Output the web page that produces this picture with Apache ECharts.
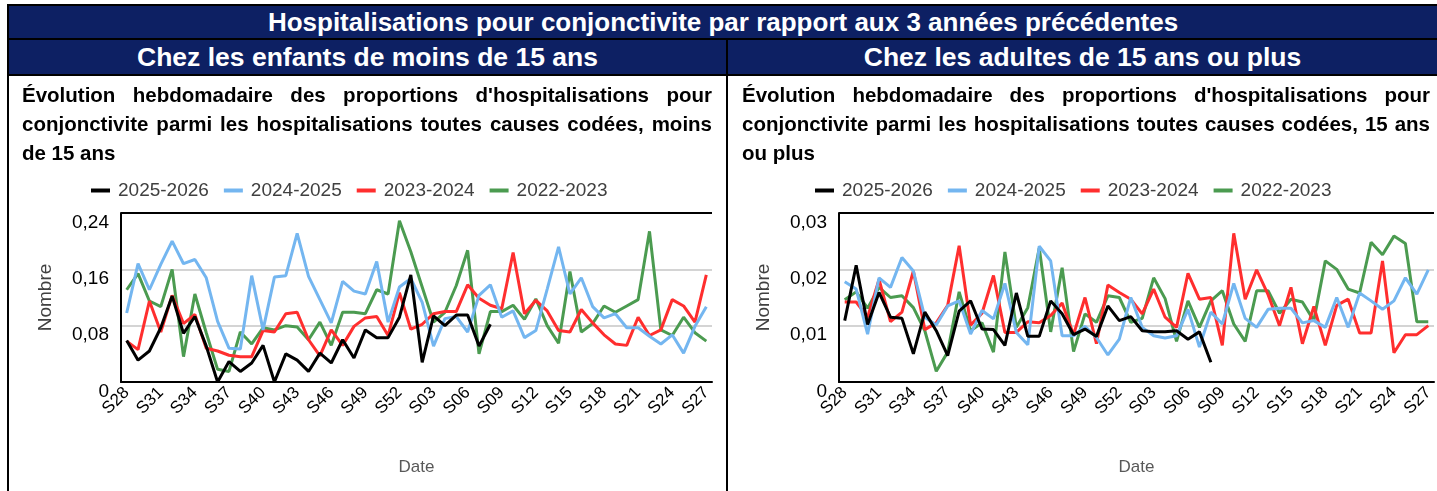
<!DOCTYPE html>
<html lang="fr">
<head>
<meta charset="utf-8">
<title>Hospitalisations pour conjonctivite</title>
<script src="https://cdn.jsdelivr.net/npm/echarts@6/dist/echarts.min.js"></script>
<style>
  html, body { margin: 0; padding: 0; background: #fff; }
  body { width: 1437px; height: 491px; position: relative; overflow: hidden;
         font-family: "Liberation Sans", Arial, sans-serif; }
  #chart { position: absolute; left: 0; top: 0; width: 1437px; height: 491px; }
  .band { position: absolute; background: #0D2063; color: #fff; font-weight: bold;
          text-align: center; white-space: nowrap; }
  .rule { position: absolute; background: #000; }
  .para { position: absolute; font-weight: bold; font-size: 20.5px; line-height: 29px; color: #000; }
  .para div { text-align: justify; text-align-last: justify; white-space: nowrap; }
  .para div.last { text-align-last: left; }
</style>
</head>
<body>
<div id="chart"></div>

<div class="band" style="left:9px; top:6px; width:1428px; height:32px; line-height:32px; font-size:26px;">Hospitalisations pour conjonctivite par rapport aux 3 années précédentes</div>
<div class="band" style="left:9px; top:40px; width:717px; height:34px; line-height:35px; font-size:26.5px;">Chez les enfants de moins de 15 ans</div>
<div class="band" style="left:728px; top:40px; width:709px; height:34px; line-height:35px; font-size:26.5px;">Chez les adultes de 15 ans ou plus</div>

<div class="rule" style="left:7px; top:4px; width:1430px; height:2px;"></div>
<div class="rule" style="left:7px; top:38px; width:1430px; height:2px;"></div>
<div class="rule" style="left:7px; top:74px; width:1430px; height:2px;"></div>
<div class="rule" style="left:7px; top:4px; width:2px; height:487px;"></div>
<div class="rule" style="left:726px; top:38px; width:2px; height:453px;"></div>

<div class="para" style="left:22px; top:80px; width:690px;">
  <div>Évolution hebdomadaire des proportions d'hospitalisations pour</div>
  <div>conjonctivite parmi les hospitalisations toutes causes codées, moins</div>
  <div class="last">de 15 ans</div>
</div>
<div class="para" style="left:742px; top:80px; width:688px;">
  <div>Évolution hebdomadaire des proportions d'hospitalisations pour</div>
  <div>conjonctivite parmi les hospitalisations toutes causes codées, 15 ans</div>
  <div class="last">ou plus</div>
</div>

<script>
// Semaines de S28 à S27
const weeks = ['S28','S29','S30','S31','S32','S33','S34','S35','S36','S37','S38','S39','S40',
  'S41','S42','S43','S44','S45','S46','S47','S48','S49','S50','S51','S52',
  'S01','S02','S03','S04','S05','S06','S07','S08','S09','S10','S11','S12','S13','S14',
  'S15','S16','S17','S18','S19','S20','S21','S22','S23','S24','S25','S26','S27'];

const seasons = ['2025-2026', '2024-2025', '2023-2024', '2022-2023'];
const seasonColors = ['#000000', '#74B6F0', '#FF2E2E', '#4B9B50'];

// Moins de 15 ans
const enfants2526 = [0.059, 0.031, 0.044, 0.077, 0.122, 0.069, 0.093, 0.051, 0.0, 0.029,
  0.015, 0.027, 0.052, 0.0, 0.040, 0.031, 0.015, 0.041, 0.027, 0.060,
  0.034, 0.074, 0.063, 0.063, 0.092, 0.152, 0.028, 0.094, 0.080, 0.095,
  0.095, 0.051, 0.082];
const enfants2425 = [0.098, 0.168, 0.131, 0.167, 0.200, 0.168, 0.174, 0.148, 0.086, 0.048,
  0.047, 0.151, 0.074, 0.149, 0.151, 0.211, 0.150, 0.117, 0.084, 0.143,
  0.129, 0.125, 0.171, 0.085, 0.135, 0.147, 0.113, 0.051, 0.090, 0.093,
  0.071, 0.123, 0.138, 0.092, 0.101, 0.063, 0.073, 0.132, 0.192, 0.125,
  0.148, 0.107, 0.091, 0.097, 0.077, 0.077, 0.065, 0.054, 0.067, 0.041,
  0.079, 0.107];
const enfants2324 = [0.058, 0.046, 0.115, 0.071, 0.123, 0.083, 0.096, 0.048, 0.044, 0.038,
  0.036, 0.036, 0.073, 0.071, 0.097, 0.099, 0.060, 0.037, 0.074, 0.052,
  0.079, 0.091, 0.093, 0.066, 0.127, 0.075, 0.082, 0.097, 0.100, 0.100,
  0.138, 0.119, 0.109, 0.104, 0.184, 0.097, 0.116, 0.101, 0.073, 0.071,
  0.103, 0.084, 0.067, 0.054, 0.052, 0.092, 0.066, 0.074, 0.117, 0.108,
  0.085, 0.152];
const enfants2223 = [0.131, 0.154, 0.115, 0.107, 0.160, 0.036, 0.125, 0.070, 0.018, 0.015,
  0.071, 0.054, 0.077, 0.074, 0.080, 0.078, 0.060, 0.085, 0.052, 0.099,
  0.099, 0.097, 0.131, 0.125, 0.229, 0.185, 0.135, 0.085, 0.099, 0.137,
  0.187, 0.040, 0.100, 0.100, 0.109, 0.089, 0.118, 0.080, 0.055, 0.157,
  0.071, 0.083, 0.108, 0.099, 0.108, 0.117, 0.214, 0.074, 0.066, 0.092,
  0.070, 0.058];

// 15 ans ou plus
const adultes2526 = [0.0109, 0.0207, 0.0102, 0.0159, 0.0115, 0.0113, 0.0050, 0.0124, 0.0091, 0.0047,
  0.0126, 0.0144, 0.0094, 0.0093, 0.0065, 0.0158, 0.0081, 0.0081, 0.0144, 0.0121,
  0.0084, 0.0094, 0.0081, 0.0135, 0.0109, 0.0116, 0.0091, 0.0089, 0.0089, 0.0091,
  0.0076, 0.0089, 0.0035];
const adultes2425 = [0.0178, 0.0165, 0.0085, 0.0185, 0.0168, 0.0221, 0.0197, 0.0115, 0.0101, 0.0135,
  0.0144, 0.0085, 0.0127, 0.0112, 0.0175, 0.0088, 0.0066, 0.0241, 0.0215, 0.0082,
  0.0082, 0.0099, 0.0079, 0.0048, 0.0076, 0.0150, 0.0097, 0.0082, 0.0078, 0.0082,
  0.0129, 0.0062, 0.0124, 0.0103, 0.0175, 0.0113, 0.0097, 0.0129, 0.0131, 0.0131,
  0.0105, 0.0109, 0.0097, 0.0150, 0.0097, 0.0158, 0.0144, 0.0129, 0.0144, 0.0185,
  0.0156, 0.0199];
const adultes2324 = [0.0142, 0.0142, 0.0115, 0.0182, 0.0107, 0.0124, 0.0197, 0.0093, 0.0105, 0.0136,
  0.0242, 0.0101, 0.0122, 0.0189, 0.0088, 0.0088, 0.0107, 0.0105, 0.0118, 0.0140,
  0.0084, 0.0150, 0.0068, 0.0172, 0.0159, 0.0147, 0.0121, 0.0165, 0.0115, 0.0097,
  0.0193, 0.0147, 0.0150, 0.0065, 0.0264, 0.0147, 0.0199, 0.0155, 0.0100, 0.0168,
  0.0068, 0.0134, 0.0065, 0.0136, 0.0147, 0.0087, 0.0087, 0.0215, 0.0052, 0.0084,
  0.0084, 0.0100];
const adultes2223 = [0.0146, 0.0160, 0.0131, 0.0168, 0.0150, 0.0153, 0.0132, 0.0091, 0.0019, 0.0053,
  0.0160, 0.0091, 0.0105, 0.0053, 0.0231, 0.0097, 0.0132, 0.0238, 0.0089, 0.0203,
  0.0054, 0.0121, 0.0106, 0.0153, 0.0150, 0.0106, 0.0113, 0.0185, 0.0148, 0.0072,
  0.0144, 0.0097, 0.0144, 0.0162, 0.0103, 0.0072, 0.0162, 0.0162, 0.0122, 0.0147,
  0.0142, 0.0109, 0.0215, 0.0200, 0.0165, 0.0158, 0.0248, 0.0226, 0.0259, 0.0246,
  0.0107, 0.0107];

const panels = [
  { grid: { left: 121, top: 213, width: 591, height: 169 }, legendLeft: 86,
    yMax: 0.24, yStep: 0.08, data: [enfants2526, enfants2425, enfants2324, enfants2223] },
  { grid: { left: 839, top: 213, width: 595, height: 169 }, legendLeft: 810,
    yMax: 0.03, yStep: 0.01, data: [adultes2526, adultes2425, adultes2324, adultes2223] }
];

const fmt = v => String(+v.toFixed(4)).replace('.', ',');
const option = { animation: false, grid: [], xAxis: [], yAxis: [], legend: [], series: [] };

panels.forEach((p, k) => {
  option.grid.push(Object.assign({ containLabel: false }, p.grid));
  option.legend.push({
    left: p.legendLeft, top: 176, icon: 'rect', itemWidth: 19, itemHeight: 4, itemGap: 15,
    data: seasons,
    textStyle: { fontFamily: 'Liberation Sans, Arial', fontSize: 19, color: '#404040', padding: [0, 0, 0, 3] }
  });
  // category axis with labels
  option.xAxis.push({
    type: 'category', gridIndex: k, data: weeks, boundaryGap: true,
    name: 'Date', nameLocation: 'middle', nameGap: 77,
    nameTextStyle: { fontFamily: 'Liberation Sans, Arial', fontSize: 17, color: '#595959', verticalAlign: 'top' },
    axisLine: { lineStyle: { color: '#000', width: 2 } },
    axisTick: { interval: 2, alignWithLabel: true, length: 5, lineStyle: { color: '#000', width: 2 } },
    axisLabel: { interval: 2, rotate: 45, margin: 8, fontFamily: 'Liberation Sans, Arial', fontSize: 17, color: '#000' },
    splitLine: { show: false }
  });
  // inner half of the crossing tick marks
  option.xAxis.push({
    type: 'category', gridIndex: k, data: weeks, boundaryGap: true, position: 'bottom',
    axisLine: { show: false },
    axisTick: { interval: 2, alignWithLabel: true, inside: true, length: 5, lineStyle: { color: '#000', width: 2 } },
    axisLabel: { show: false }, splitLine: { show: false }
  });
  option.yAxis.push({
    type: 'value', gridIndex: k, min: 0, max: p.yMax, interval: p.yStep,
    name: 'Nombre', nameLocation: 'middle', nameGap: 66, nameRotate: 90,
    nameTextStyle: { fontFamily: 'Liberation Sans, Arial', fontSize: 19, color: '#404040' },
    axisLine: { show: true, lineStyle: { color: '#000', width: 2 } },
    axisTick: { show: false },
    axisLabel: { margin: 12, fontFamily: 'Liberation Sans, Arial', fontSize: 19, color: '#000',
                 verticalAlign: 'top', formatter: fmt },
    splitLine: { show: true, lineStyle: { color: ['#D4D4D4', '#D4D4D4', '#D4D4D4', '#000'], width: 2 } }
  });
  seasons.forEach((s, j) => {
    option.series.push({
      type: 'line', name: s, xAxisIndex: 2 * k, yAxisIndex: k, data: p.data[j],
      showSymbol: false, symbol: 'none', z: 10 - j,
      lineStyle: { color: seasonColors[j], width: 3 }, itemStyle: { color: seasonColors[j] }
    });
  });
});

const chart = echarts.init(document.getElementById('chart'), null, { renderer: 'canvas' });
chart.setOption(option);
</script>
</body>
</html>
